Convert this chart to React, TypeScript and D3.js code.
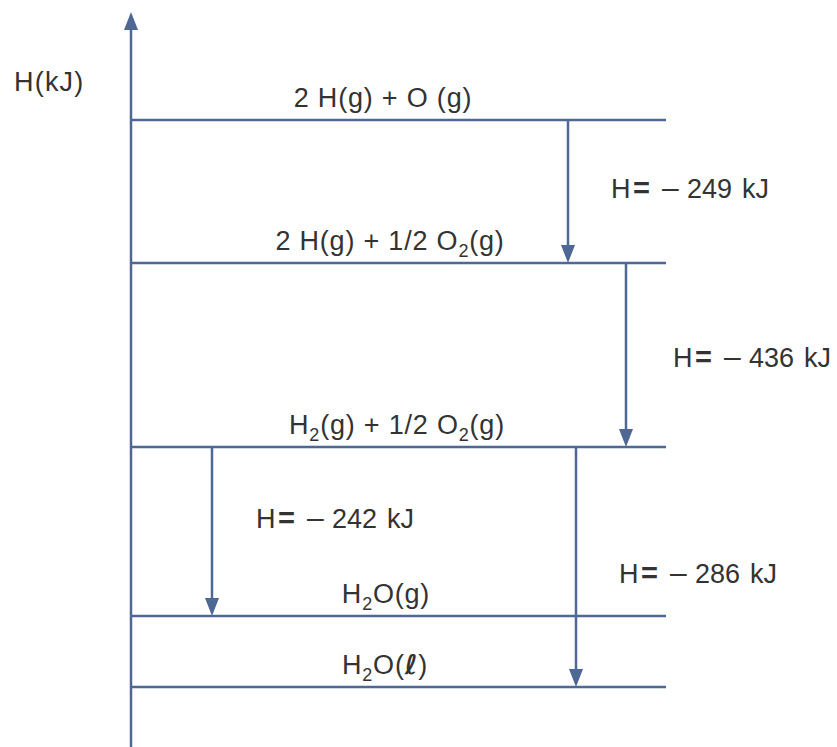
import React, { useEffect, useRef } from 'react';
import * as d3 from 'd3';

// enthalpy levels, kJ relative to H2(g) + 1/2 O2(g)
const levelNames = ['2 H(g) + O (g)', '2 H(g) + 1/2 O_2(g)', 'H_2(g) + 1/2 O_2(g)', 'H_2O(g)', 'H_2O(ℓ)'];
const levelEnthalpy = [685, 436, 0, -242, -286];
// diagram is schematic, not to scale
const levelY = [120, 263, 447, 616, 687];
const labelCenterX = [383, 390, 397, 386, 385];

// transitions between levels
const arrowFrom = [0, 1, 2, 2];
const arrowTo = [1, 2, 3, 4];
const deltaH = [-249, -436, -242, -286];
const arrowX = [568, 626, 212, 576];
const arrowLabelX = [611, 673, 256, 619];
const arrowLabelY = [198, 367, 528, 583];

const W = 837;
const H = 747;
const lineColor = '#4f6794';
const textColor = '#333333';

function addRich(sel: d3.Selection<SVGTextElement, unknown, null, undefined>, s: string) {
  const parts = s.split(/_(\d)/);
  parts.forEach((p, i) => {
    if (!p) return;
    if (i % 2 === 1) {
      sel.append('tspan').attr('font-size', 18).attr('dy', 7).text(p);
    } else {
      const t = sel.append('tspan').text(p);
      if (i > 0) t.attr('dy', -7);
      if (p.includes('ℓ')) {
        // bold script l
        const [a, b] = p.split('ℓ');
        t.text(a);
        sel.append('tspan').attr('font-weight', 'bold').attr('font-family', 'DejaVu Sans').attr('font-style', 'italic').text('ℓ');
        sel.append('tspan').text(b);
      }
    }
  });
}

export default function App() {
  const svgRef = useRef<SVGSVGElement>(null);

  useEffect(() => {
    if (!svgRef.current) return;
    const svg = d3.select(svgRef.current);
    svg.selectAll('*').remove();

    const y = d3.scaleLinear().domain(levelEnthalpy).range(levelY);
    const x0 = 131;
    const x1 = 666;

    // axis with arrowhead
    svg.append('line')
      .attr('x1', x0).attr('x2', x0)
      .attr('y1', H).attr('y2', 28)
      .attr('stroke', lineColor).attr('stroke-width', 2.5);
    svg.append('path')
      .attr('d', `M${x0},12 L${x0 - 7},30 L${x0 + 7},30 Z`)
      .attr('fill', lineColor);

    svg.append('text')
      .attr('x', 14).attr('y', 91)
      .attr('font-size', 27)
      .attr('letter-spacing', 1.2)
      .attr('fill', textColor)
      .text('H(kJ)');

    // levels
    levelEnthalpy.forEach((v, i) => {
      svg.append('line')
        .attr('x1', x0).attr('x2', x1)
        .attr('y1', y(v)).attr('y2', y(v))
        .attr('stroke', lineColor).attr('stroke-width', 2.5);
      const t = svg.append('text')
        .attr('x', labelCenterX[i])
        .attr('y', y(v) - 13)
        .attr('text-anchor', 'middle')
        .attr('font-size', 27)
        .attr('letter-spacing', 0.8)
        .attr('fill', textColor);
      addRich(t, levelNames[i]);
    });

    // arrows
    const pieceDx = [0, 22, 51, 76, 131];
    deltaH.forEach((d, i) => {
      const ya = y(levelEnthalpy[arrowFrom[i]]);
      const yb = y(levelEnthalpy[arrowTo[i]]);
      const ax = arrowX[i];
      svg.append('line')
        .attr('x1', ax).attr('x2', ax)
        .attr('y1', ya).attr('y2', yb - 16)
        .attr('stroke', lineColor).attr('stroke-width', 2.5);
      svg.append('path')
        .attr('d', `M${ax},${yb} L${ax - 7},${yb - 18} L${ax + 7},${yb - 18} Z`)
        .attr('fill', lineColor);
      const t = svg.append('text')
        .attr('y', arrowLabelY[i])
        .attr('font-size', 27)
        .attr('fill', textColor);
      const pieces = ['H', '=', '–', String(Math.abs(d)), 'kJ'];
      pieces.forEach((p, k) => {
        const s = t.append('tspan').attr('x', arrowLabelX[i] + pieceDx[k]).text(p);
        if (p === '=') s.attr('font-weight', 'bold').attr('font-size', 29);
        if (p === '–') s.attr('font-size', 30);
      });
    });
  }, []);

  return (
    <svg
      ref={svgRef}
      width={W}
      height={H}
      style={{ position: 'absolute', left: 0, top: 0, background: '#fff' }}
      fontFamily="'Liberation Sans', Arial, sans-serif"
    />
  );
}
